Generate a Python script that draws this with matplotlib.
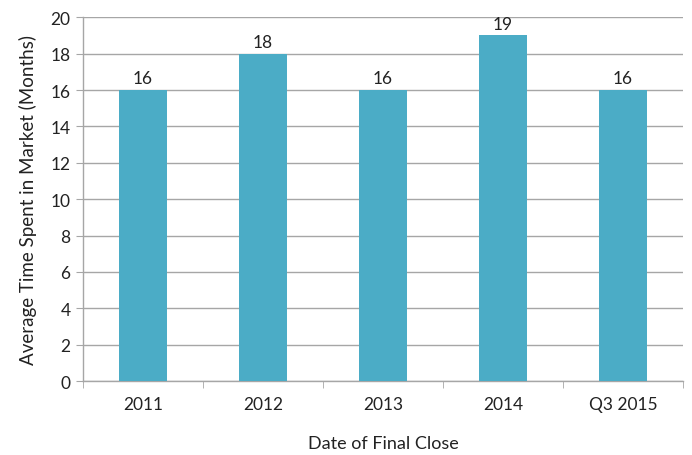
import numpy as np
import matplotlib.pyplot as plt
from matplotlib.ticker import FixedLocator

years = ['2011', '2012', '2013', '2014', 'Q3 2015']
months = [16, 18, 16, 19, 16]

plt.rcParams['font.family'] = ['Lato', 'DejaVu Sans']
txt = '#222222'
grey = '#a6a6a6'

fig = plt.figure(figsize=(6.92, 4.56), dpi=100)
ax = fig.add_axes([0.12, 0.162, 0.867, 0.798])

x = np.arange(len(years))
bars = ax.bar(x, months, width=0.4, color='#4BACC6', zorder=3)
for b, v in zip(bars, months):
    ax.text(b.get_x() + b.get_width() / 2, v + 0.2, str(v), ha='center',
            va='bottom', fontsize=12.5, color=txt)

ax.set_xlim(-0.5, len(years) - 0.5)
ax.set_ylim(0, 20)
ax.set_yticks(range(0, 21, 2))
ax.set_xticks(x)
ax.set_xticklabels(years)
ax.xaxis.set_minor_locator(FixedLocator(np.arange(-0.5, len(years), 1)))
ax.tick_params(axis='x', which='major', length=0, pad=11, labelsize=12.5, colors=txt)
ax.tick_params(axis='x', which='minor', length=5, color=grey, direction='out')
ax.tick_params(axis='y', length=5, color=grey, labelsize=12.5, colors=txt, pad=4)

ax.grid(axis='y', color=grey, linewidth=1, zorder=0)
for s in ['top', 'right']:
    ax.spines[s].set_visible(False)
for s in ['left', 'bottom']:
    ax.spines[s].set_color(grey)
    ax.spines[s].set_linewidth(1)

ax.set_xlabel('Date of Final Close', fontsize=13, color=txt, labelpad=16)
ax.set_ylabel('Average Time Spent in Market (Months)', fontsize=13.5, color=txt, labelpad=10)

fig.savefig('out.png', dpi=100)
